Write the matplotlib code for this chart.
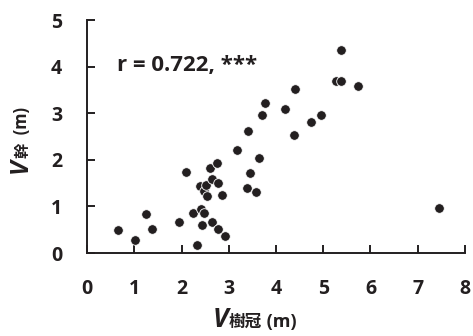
import matplotlib.pyplot as plt

# crown volume vs trunk volume
v_crown = [0.65, 1.01, 1.24, 1.37, 1.95, 2.10, 2.25, 2.32, 2.39, 2.41,
           2.44, 2.48, 2.48, 2.51, 2.53, 2.60, 2.64, 2.65, 2.76, 2.77,
           2.78, 2.86, 2.92, 3.17, 3.38, 3.41, 3.46, 3.57, 3.65, 3.70,
           3.77, 4.19, 4.38, 4.40, 4.74, 4.95, 5.28, 5.37, 5.37, 5.73, 7.45]
v_trunk = [0.50, 0.27, 0.83, 0.51, 0.66, 1.73, 0.86, 0.18, 1.44, 0.94,
           0.60, 0.86, 1.34, 1.46, 1.22, 1.83, 1.59, 0.66, 1.93, 0.51,
           1.51, 1.25, 0.36, 2.21, 1.40, 2.62, 1.72, 1.32, 2.05, 2.96,
           3.23, 3.10, 2.54, 3.53, 2.82, 2.96, 3.69, 3.70, 4.36, 3.58, 0.97]
x_ticks = [0, 1, 2, 3, 4, 5, 6, 7, 8]
y_ticks = [0, 1, 2, 3, 4, 5]
r_text = "r = 0.722, ***"

ink = "#231f20"
fam = ["Open Sans", "Noto Sans CJK JP", "DejaVu Sans"]
plt.rcParams["font.family"] = fam

fig = plt.figure(figsize=(4.73, 3.36), dpi=100)
ax = fig.add_axes([0.184, 0.247, 0.799, 0.693])

ax.scatter(v_crown, v_trunk, s=48, color=ink, edgecolor="white",
           linewidth=0.6, zorder=3, clip_on=False)

ax.set_xlim(0, 8)
ax.set_ylim(0, 5)
ax.set_xticks(x_ticks)
ax.set_yticks(y_ticks)
for s in ["top", "right"]:
    ax.spines[s].set_visible(False)
for s in ["left", "bottom"]:
    ax.spines[s].set_linewidth(1.4)
    ax.spines[s].set_color(ink)
ax.tick_params(direction="in", length=6, width=1.4, color=ink,
               labelcolor=ink, labelsize=14)
ax.tick_params(axis="x", pad=19)
ax.tick_params(axis="y", pad=18)
for lab in ax.get_xticklabels() + ax.get_yticklabels():
    lab.set_fontweight("bold")

ax.text(0.63, 3.9, r_text, fontsize=16, fontweight="bold", color=ink,
        ha="left", va="baseline")

# x label: V + 樹冠 + (m)
xb = 1 - 327 / 336
t1 = fig.text(213 / 473, xb, "V", fontsize=19, fontweight="bold",
              style="italic", color=ink, ha="left", va="baseline")
t2 = fig.add_artist(plt.Annotation("樹冠", xy=(1, xb), xycoords=(t1, "figure fraction"),
                                   fontsize=12, fontweight="bold", color=ink,
                                   ha="left", va="baseline"))
fig.add_artist(plt.Annotation(" (m)", xy=(1, xb), xycoords=(t2, "figure fraction"),
                              fontsize=13, fontweight="bold", color=ink,
                              ha="left", va="baseline"))

# y label: rotated
yb = 27 / 473
u1 = fig.text(yb, 1 - 173 / 336, "V", fontsize=18, fontweight="bold",
              style="italic", color=ink, rotation=90, rotation_mode="anchor",
              ha="left", va="baseline")
u2 = fig.add_artist(plt.Annotation("幹", xy=(yb, 1), xycoords=("figure fraction", u1),
                                   fontsize=11, fontweight="bold", color=ink,
                                   rotation=90, rotation_mode="anchor",
                                   ha="left", va="baseline"))
fig.add_artist(plt.Annotation("  (m)", xy=(yb, 1), xycoords=("figure fraction", u2),
                              fontsize=12, fontweight="bold", color=ink,
                              rotation=90, rotation_mode="anchor",
                              ha="left", va="baseline"))

fig.savefig("out.png", dpi=100)
